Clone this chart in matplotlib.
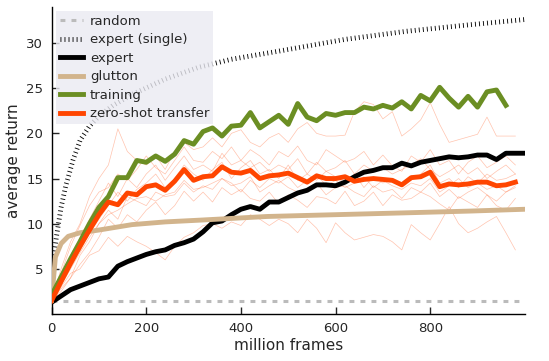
import numpy as np
import matplotlib
matplotlib.use("Agg")
import matplotlib.pyplot as plt

# evaluation grid (million frames), one point every 20M
frames = np.arange(0, 1001, 20)

random_level = 1.5

single_frames = [5, 10, 20, 30, 45, 60, 80, 100, 130, 170, 240, 310, 380, 480, 620, 750, 880, 1000]
single_vals = [6.5, 8.5, 11.8, 14.2, 17.0, 19.2, 20.8, 21.9, 23.1, 24.3, 26.0, 27.3, 28.2, 29.1, 30.4, 31.3, 32.0, 32.6]

expert_vals = [1.3, 2.0, 2.7, 3.1, 3.5, 3.9, 4.1, 5.3, 5.8, 6.2, 6.6, 6.9, 7.1, 7.6, 7.9, 8.3, 9.1,
               10.1, 10.3, 11.0, 11.6, 11.9, 11.6, 12.4, 12.4, 12.9, 13.4, 13.7, 14.3, 14.3, 14.2, 14.6,
               15.2, 15.7, 15.9, 16.2, 16.2, 16.7, 16.4, 16.8, 17.0, 17.2, 17.4, 17.3, 17.4, 17.6, 17.6,
               17.1, 17.8, 17.8, 17.8]

glutton_frames = [0, 8, 20, 35, 60, 100, 170, 240, 315, 455, 600, 745, 885, 1000]
glutton_vals = [1.5, 6.3, 7.8, 8.6, 9.0, 9.3, 9.9, 10.2, 10.4, 10.8, 11.0, 11.2, 11.4, 11.6]

training_vals = [2.1, 4.1, 6.1, 8.0, 10.0, 11.8, 13.0, 15.1, 15.1, 17.0, 16.8, 17.5, 16.9, 17.7, 19.2,
                 18.8, 20.2, 20.6, 19.7, 20.8, 20.9, 22.3, 20.6, 21.3, 22.0, 21.0, 23.3, 21.8, 21.4,
                 22.2, 22.0, 22.3, 22.3, 22.9, 22.7, 23.1, 22.8, 23.5, 22.7, 24.2, 23.6, 25.1, 23.9,
                 22.9, 24.1, 22.9, 24.6, 24.8, 23.1]

transfer_vals = [1.5, 3.6, 5.6, 7.5, 9.3, 11.0, 12.4, 12.1, 13.4, 13.2, 14.1, 14.3, 13.7, 14.7, 16.0,
                 14.8, 15.2, 15.3, 16.3, 15.7, 15.6, 15.9, 15.0, 15.3, 15.4, 15.6, 15.1, 14.6, 15.3,
                 15.0, 15.0, 15.2, 14.7, 14.9, 15.0, 14.9, 14.8, 14.3, 15.1, 15.2, 15.7, 14.1, 14.4,
                 14.3, 14.4, 14.6, 14.6, 14.2, 14.3, 14.6]

# individual zero-shot runs
run_a = [1.5, 5.0, 8.0, 10.0, 13.0, 15.0, 16.5, 20.5, 18.0, 17.0, 16.5, 17.5, 16.0, 18.0, 19.0, 18.2,
         18.5, 19.5, 18.5, 20.0, 20.4, 19.0, 18.5, 19.5, 20.0, 19.0, 20.5, 21.2, 20.0, 19.7, 19.7, 19.8,
         22.4, 23.5, 23.2, 21.6, 22.4, 19.7, 20.5, 21.5, 23.4, 21.0, 19.0, 19.3, 19.6, 19.9, 21.8, 19.7,
         19.7, 19.7]
run_b = [1.5, 3.0, 4.5, 5.0, 6.5, 7.0, 8.5, 7.5, 8.6, 8.0, 7.5, 6.8, 6.0, 7.5, 8.5, 9.0, 9.8, 10.0,
         9.5, 10.2, 9.8, 11.0, 10.5, 9.8, 10.5, 10.0, 9.0, 10.5, 9.5, 7.9, 10.1, 9.0, 8.2, 8.5, 8.8, 8.6,
         8.0, 7.1, 9.9, 9.0, 8.2, 10.0, 11.9, 10.0, 9.0, 9.5, 10.2, 10.8, 9.0, 7.1]
run_c = [1.5, 4.5, 7.5, 9.8, 12.0, 13.5, 14.0, 15.5, 14.8, 16.0, 17.5, 16.2, 15.5, 17.0, 18.5, 17.0,
         16.8, 18.0, 17.2, 18.5, 17.0, 18.2, 17.5, 16.5, 18.0, 17.4, 18.6, 17.0, 16.5, 18.2, 17.5, 16.8,
         17.2, 18.0, 16.5, 17.6, 16.4, 15.8, 17.5, 16.8, 18.2, 16.5, 17.0, 15.5, 16.8, 17.5, 16.2, 16.8,
         17.5, 16.5]
run_d = [1.5, 2.8, 4.0, 5.5, 6.8, 8.5, 10.5, 9.5, 11.0, 10.2, 11.5, 12.4, 11.0, 12.0, 13.6, 12.5,
         13.5, 12.4, 14.0, 13.2, 13.8, 12.8, 12.5, 13.5, 12.2, 13.2, 12.6, 11.8, 13.0, 12.8, 12.2, 13.6,
         12.0, 12.5, 13.5, 12.0, 13.2, 12.6, 12.8, 13.5, 13.0, 12.2, 11.5, 13.0, 12.4, 11.8, 13.2, 12.0,
         11.5, 12.8]
run_e = [1.5, 4.0, 6.5, 8.5, 10.5, 12.5, 14.5, 13.0, 15.0, 14.0, 15.5, 16.5, 14.8, 16.2, 17.5, 16.0,
         16.5, 15.8, 17.8, 16.5, 17.0, 16.2, 16.8, 15.8, 16.5, 16.0, 17.2, 15.5, 16.8, 15.8, 16.2, 17.0,
         15.5, 16.5, 15.8, 16.2, 15.5, 16.0, 16.5, 17.2, 16.0, 15.2, 15.8, 16.5, 15.5, 16.2, 15.0, 15.8,
         16.5, 15.5]
run_f = [1.5, 3.2, 5.0, 6.8, 8.5, 10.0, 11.0, 11.5, 12.2, 12.8, 13.0, 12.5, 13.2, 13.5, 14.8, 13.8,
         14.0, 14.5, 15.0, 14.2, 14.5, 15.2, 13.5, 14.2, 14.8, 14.0, 13.5, 13.8, 14.5, 13.2, 14.0, 14.2,
         13.5, 13.0, 14.2, 13.5, 13.8, 12.8, 14.0, 13.5, 14.5, 13.0, 13.8, 12.8, 13.5, 14.0, 13.2, 12.5,
         13.5, 14.0]
run_g = [1.5, 3.8, 6.0, 7.0, 9.0, 10.5, 12.0, 13.5, 12.5, 13.8, 14.5, 15.5, 14.0, 15.0, 16.5, 15.5,
         14.8, 16.0, 16.8, 15.0, 16.2, 17.0, 15.5, 16.0, 15.0, 16.5, 14.8, 15.5, 14.8, 15.8, 15.2, 14.5,
         15.5, 14.0, 15.2, 14.5, 15.0, 14.2, 14.8, 15.5, 16.5, 14.5, 15.0, 14.0, 15.2, 14.5, 15.5, 14.8,
         15.0, 15.5]
run_h = [1.5, 2.5, 4.0, 6.5, 8.0, 10.0, 11.5, 10.5, 13.0, 12.5, 12.0, 13.5, 13.0, 13.2, 14.5, 13.5,
         14.2, 13.8, 15.0, 14.5, 13.5, 14.8, 14.0, 15.0, 14.5, 15.2, 14.0, 14.8, 15.5, 14.2, 14.8, 14.0,
         14.5, 15.2, 14.0, 14.8, 14.2, 13.8, 14.5, 14.2, 15.0, 13.5, 14.2, 15.0, 14.0, 14.5, 13.8, 14.2,
         13.5, 14.2]
runs = [run_a, run_b, run_c, run_d, run_e, run_f, run_g, run_h]

plt.rcParams['font.family'] = 'DejaVu Sans'
plt.rcParams['text.color'] = '#262626'
plt.rcParams['xtick.color'] = '#262626'
plt.rcParams['ytick.color'] = '#262626'
plt.rcParams['axes.labelcolor'] = '#262626'

fig = plt.figure(figsize=(5.49, 3.61), dpi=100)
ax = fig.add_axes([0.094, 0.130, 0.862, 0.851])

for r in runs:
    ax.plot(frames[:len(r)], r, color='orangered', lw=0.5, alpha=0.32, zorder=2)

ax.plot([0, 1000], [random_level, random_level], color='#bbbbbb', lw=2.2,
        linestyle=(0, (1.6, 2.0)), label='random', zorder=3)
ax.plot(single_frames, single_vals, color='black', lw=3.5,
        linestyle=(0, (0.18, 0.65)), label='expert (single)', zorder=3)
ax.plot(frames[:len(expert_vals)], expert_vals, color='black', lw=3.5, label='expert', zorder=4)
ax.plot(glutton_frames, glutton_vals, color='tan', lw=3.5, label='glutton', zorder=4)
ax.plot(frames[:len(training_vals)], training_vals, color='olivedrab', lw=3.5, label='training', zorder=4)
ax.plot(frames[:len(transfer_vals)], transfer_vals, color='orangered', lw=3.5,
        label='zero-shot transfer', zorder=4)

ax.set_xlim(0, 1000)
ax.set_ylim(0, 34)
ax.set_xticks([0, 200, 400, 600, 800])
ax.set_yticks([5, 10, 15, 20, 25, 30])
ax.tick_params(direction='in', length=5, width=1, labelsize=9.5, pad=6)
for s in ['top', 'right']:
    ax.spines[s].set_visible(False)
for s in ['left', 'bottom']:
    ax.spines[s].set_linewidth(1)
ax.set_xlabel('million frames', fontsize=11, labelpad=2)
ax.set_ylabel('average return', fontsize=11, labelpad=4)

leg = ax.legend(loc='upper left', fontsize=9.5, facecolor='#EAEAF2', edgecolor='none',
                framealpha=0.8, fancybox=False, handlelength=1.8, handletextpad=0.5,
                labelspacing=0.42, borderaxespad=0.3, borderpad=0.3)
leg.set_zorder(5)

fig.savefig('out.png', dpi=100)
